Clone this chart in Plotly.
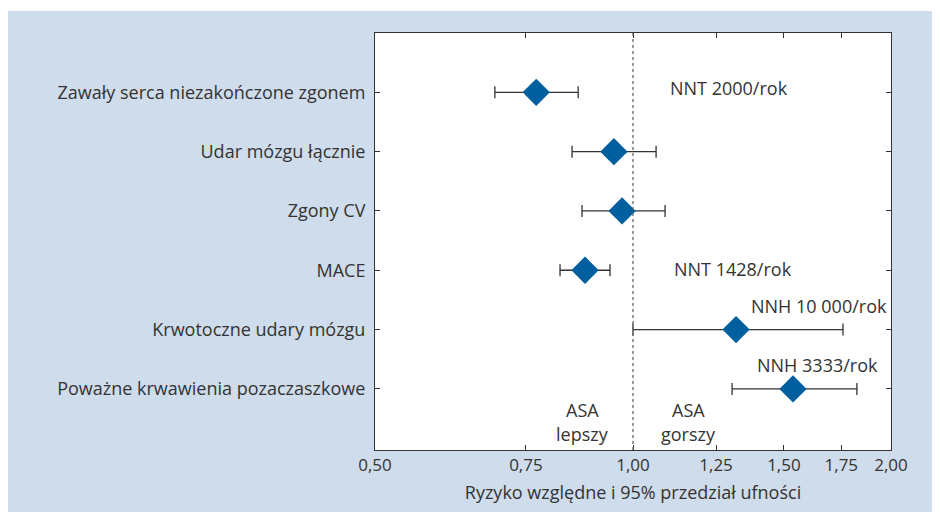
import math
import plotly.graph_objects as go

categories = [
    "Zawały serca niezakończone zgonem",
    "Udar mózgu łącznie",
    "Zgony CV",
    "MACE",
    "Krwotoczne udary mózgu",
    "Poważne krwawienia pozaczaszkowe",
]
rr = [0.771, 0.950, 0.971, 0.879, 1.319, 1.537]
ci_low = [0.690, 0.849, 0.872, 0.822, 1.000, 1.305]
ci_high = [0.863, 1.064, 1.090, 0.940, 1.758, 1.825]
row_pos = [6, 5, 4, 3, 2, 1]
x_ticks = [0.5, 0.75, 1.0, 1.25, 1.5, 1.75, 2.0]
x_tick_labels = ["0,50", "0,75", "1,00", "1,25", "1,50", "1,75", "2,00"]

notes = ["NNT 2000/rok", "NNT 1428/rok", "NNH 10 000/rok", "NNH 3333/rok"]
note_x = [1.099, 1.111, 1.365, 1.387]
note_y = [6.08, 3.02, 2.40, 1.41]

FONT = "Open Sans"
TXT = "#333333"
BLUE_BG = "#CFDCEB"
FS = 18

fig = go.Figure()
fig.add_trace(go.Scatter(
    x=rr, y=row_pos, mode="markers",
    marker=dict(symbol="diamond", size=21, color="#005F9E"),
    error_x=dict(type="data", symmetric=False,
                 array=[h - v for h, v in zip(ci_high, rr)],
                 arrayminus=[v - l for v, l in zip(rr, ci_low)],
                 color="#333333", thickness=1.3, width=6),
    showlegend=False, hoverinfo="skip",
))

shapes = [
    dict(type="rect", xref="paper", yref="paper", x0=-0.75, x1=1.1, y0=-0.2, y1=1.053,
         fillcolor=BLUE_BG, line=dict(width=0), layer="below"),
    dict(type="rect", xref="paper", yref="paper", x0=0, x1=1, y0=0, y1=1,
         fillcolor="white", line=dict(width=0), layer="below"),
    dict(type="line", xref="x", yref="paper", x0=1.0, x1=1.0, y0=0, y1=1,
         line=dict(color="#666666", width=1.3, dash="dot")),
]

annotations = []
for t, x, y in zip(notes, note_x, note_y):
    annotations.append(dict(text=t, x=math.log10(x), y=y, xref="x", yref="y",
                            xanchor="left", yanchor="middle", showarrow=False,
                            font=dict(family=FONT, size=FS, color=TXT)))
for t, x in [("ASA", 0.874), ("ASA", 1.16)]:
    annotations.append(dict(text=t, x=math.log10(x), y=0.64, xref="x", yref="y",
                            xanchor="center", yanchor="middle", showarrow=False,
                            font=dict(family=FONT, size=FS, color=TXT)))
for t, x in [("lepszy", 0.874), ("gorszy", 1.16)]:
    annotations.append(dict(text=t, x=math.log10(x), y=0.24, xref="x", yref="y",
                            xanchor="center", yanchor="middle", showarrow=False,
                            font=dict(family=FONT, size=FS, color=TXT)))

fig.update_layout(
    width=932, height=504,
    margin=dict(l=367, r=49, t=25, b=62),
    paper_bgcolor="white", plot_bgcolor="rgba(0,0,0,0)",
    shapes=shapes, annotations=annotations,
    font=dict(family=FONT, size=FS, color=TXT),
    xaxis=dict(type="log", range=[math.log10(0.5), math.log10(2.0)],
               tickvals=x_ticks, ticktext=x_tick_labels,
               ticks="inside", ticklen=5, tickcolor="#333333",
               showline=True, linecolor="#333333", linewidth=1, mirror="allticks",
               showgrid=False, zeroline=False,
               tickfont=dict(family=FONT, size=17, color=TXT),
               title=dict(text="Ryzyko względne i 95% przedział ufności",
                          font=dict(family=FONT, size=FS, color=TXT), standoff=10)),
    yaxis=dict(range=[-0.03, 7], tickvals=row_pos, ticktext=categories,
               ticks="inside", ticklen=5, tickcolor="#333333",
               showline=True, linecolor="#333333", linewidth=1, mirror="allticks",
               showgrid=False, zeroline=False, ticklabelstandoff=5,
               tickfont=dict(family=FONT, size=FS, color=TXT)),
)

fig.write_html("out.html")
